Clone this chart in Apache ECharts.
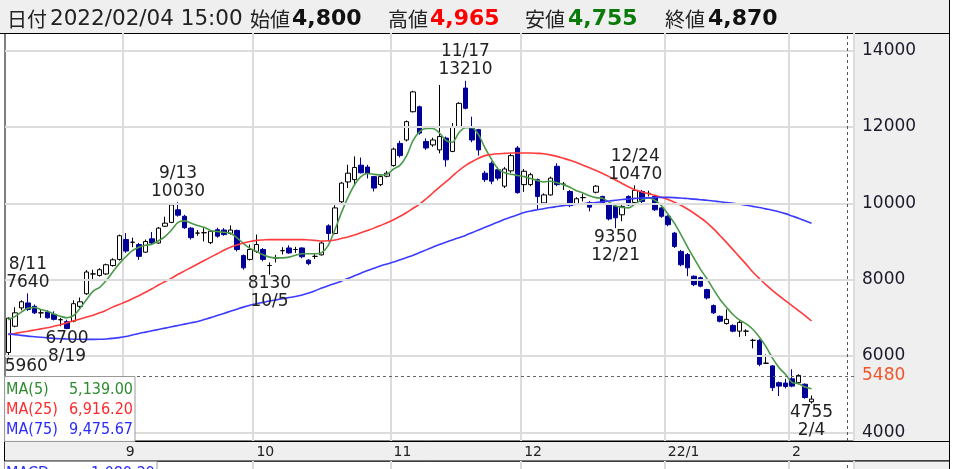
<!DOCTYPE html>
<html><head><meta charset="utf-8">
<script src="https://cdn.jsdelivr.net/npm/echarts@6/dist/echarts.min.js"></script>
<style>html,body{margin:0;padding:0;background:#fff}#c{width:954px;height:469px}</style>
</head><body><div id="c"></div>
<script>
// ---- data ----
const dates = [
'8/5','8/6','8/10','8/11','8/12','8/13','8/16','8/17','8/18','8/19','8/20','8/23','8/24','8/25','8/26','8/27','8/30','8/31',
'9/1','9/2','9/3','9/6','9/7','9/8','9/9','9/10','9/13','9/14','9/15','9/16','9/17','9/21','9/22','9/24','9/27','9/28','9/29','9/30',
'10/1','10/4','10/5','10/6','10/7','10/8','10/11','10/12','10/13','10/14','10/15','10/18','10/19','10/20','10/21','10/22','10/25','10/26','10/27','10/28','10/29',
'11/1','11/2','11/4','11/5','11/8','11/9','11/10','11/11','11/12','11/15','11/16','11/17','11/18','11/19','11/22','11/24','11/25','11/26','11/29','11/30',
'12/1','12/2','12/3','12/6','12/7','12/8','12/9','12/10','12/13','12/14','12/15','12/16','12/17','12/20','12/21','12/22','12/23','12/24','12/27','12/28','12/29','12/30',
'1/4','1/5','1/6','1/7','1/11','1/12','1/13','1/14','1/17','1/18','1/19','1/20','1/21','1/24','1/25','1/26','1/27','1/28','1/31',
'2/1','2/2','2/3','2/4'];
const open = [6090,6780,7260,7390,7300,7130,7150,7090,6950,6900,6910,7300,7630,8150,8110,8150,8370,8530,
9050,8980,8920,8720,9070,8960,9400,9500,9830,9660,9350,9220,9230,8970,9310,9300,9210,9290,8630,8530,
8740,8790,8370,8570,8760,8830,8790,8830,8510,8610,8650,9410,9210,10040,10560,10620,11000,10950,10700,10490,10710,
10990,11570,11660,12400,12530,11620,11530,11400,11710,11360,12010,13020,12010,11930,10790,11050,10880,10450,10850,11450,
10490,10490,10620,10010,10220,10970,10500,10310,9990,10150,10020,10290,10180,9960,9920,9700,10180,10020,10310,10260,10180,9880,
9660,9220,8740,8660,8090,8050,7740,7320,7040,6850,6800,6650,6650,6410,6410,5810,5740,5300,5290,
5400,5300,5260,4800];
const close = [6990,7130,7420,7220,7130,7130,7000,6960,6950,6720,7370,7420,8200,8150,8260,8390,8520,9150,
8750,8980,8610,9000,8960,9350,9480,9960,9690,9360,9100,9220,9230,9270,9140,9180,9300,8790,8310,8790,
8920,8530,8370,8570,8760,8700,8790,8600,8420,8610,8960,9210,9880,10530,10790,10940,10800,10780,10400,10700,10790,
11420,11250,12140,12920,11840,11450,11660,11750,11140,12010,12620,12490,11660,11400,10620,10580,10660,10900,11250,10280,
10840,10750,10180,10220,10660,10490,10500,9940,10120,10150,9900,10450,9990,9590,9620,9920,9960,10340,10050,10260,9830,9660,
9440,8870,8390,8310,7870,7830,7520,7130,6910,6960,6650,6880,6650,6410,5780,5810,5170,5210,5200,
5210,5490,4910,4870];
const low = [5960,6750,7200,7180,7100,7000,6980,6930,6780,6700,6880,7250,7600,8000,8080,8120,8340,8500,
8700,8850,8520,8700,8930,8940,9380,9480,9650,9330,9050,9150,9000,8930,9100,9150,9180,8740,8260,8500,
8700,8480,8130,8450,8660,8680,8700,8560,8380,8540,8630,9000,9190,10000,10400,10500,10780,10650,10310,10450,10680,
10960,11200,11620,12380,11800,11400,11480,11310,10960,11340,11980,12460,11600,11250,10560,10500,10600,10400,10800,10250,
10300,10450,9830,9980,10200,10450,10350,9900,9960,10050,9790,10260,9960,9550,9350,9530,9930,9990,10010,10180,9800,9620,
9400,8830,8350,8090,7830,7800,7480,7100,6880,6820,6620,6500,6520,6200,5730,5790,5080,4950,5150,
5180,5260,4880,4755];
const high = [7010,7280,7460,7640,7350,7220,7200,7170,7000,6950,7460,7530,8250,8260,8300,8420,8560,9180,
9220,9100,8960,9050,9250,9380,9650,9990,10030,9700,9380,9300,9350,9300,9360,9350,9420,9310,8660,8920,
9180,8830,8450,8650,8850,8900,8860,8850,8540,8680,9000,9450,9950,10560,11010,11230,11200,11010,10720,10760,10850,
11460,11640,12170,12950,12560,11700,11720,13100,11750,12100,12650,13210,12270,11950,10850,11100,10950,10950,11300,11500,
10900,10800,10650,10260,10700,11050,10560,10350,10160,10250,10060,10480,10200,9990,9960,9950,10210,10470,10350,10330,10200,9900,
9690,9250,8780,8700,8110,8080,7760,7350,7060,7220,6830,6950,6700,6450,6440,6040,5760,5330,5400,
5650,5520,5280,4965];
const ma5 = [6950,7030,7150,7250,7270,7220,7170,7100,7040,7000,7060,7250,7480,7700,7800,7980,8200,8420,
8600,8760,8850,8900,8930,9020,9130,9300,9500,9540,9480,9420,9370,9290,9260,9240,9220,9100,8950,8820,
8740,8650,8590,8570,8570,8590,8640,8680,8680,8680,8710,8900,9300,9750,10150,10480,10700,10780,10760,10740,10760,
10900,11000,11250,11650,11880,11960,11960,11850,11650,11600,11850,11980,11980,11800,11450,11150,10900,10800,10760,10730,
10700,10650,10600,10560,10580,10540,10490,10420,10330,10270,10200,10150,10130,10030,9930,9890,9880,9990,10090,10140,10080,9940,
9720,9480,9180,8860,8560,8270,8020,7740,7480,7270,7080,6940,6840,6700,6500,6250,5950,5700,5520,
5310,5270,5190,5139.00];
const ma25 = [6560,6590,6620,6650,6680,6710,6740,6780,6820,6870,6920,6970,7020,7070,7130,7200,7280,7350,
7420,7500,7580,7670,7760,7860,7950,8040,8140,8230,8320,8410,8500,8590,8680,8770,8850,8910,8960,9000,
9030,9040,9050,9050,9050,9050,9050,9050,9040,9030,9010,9020,9040,9080,9120,9170,9230,9290,9350,9420,9490,
9570,9660,9760,9870,9980,10120,10270,10420,10560,10710,10860,10990,11090,11180,11250,11280,11300,11310,11320,11320,
11320,11320,11310,11300,11270,11230,11180,11130,11070,11000,10930,10860,10780,10700,10610,10520,10430,10350,10300,10250,10210,10160,
10100,10030,9950,9850,9740,9620,9490,9330,9150,8970,8780,8590,8400,8200,8030,7870,7720,7580,7450,
7320,7190,7060,6916.20];
const ma75 = [6580,6560,6540,6520,6505,6490,6475,6462,6452,6446,6440,6437,6435,6435,6437,6445,6460,6480,
6510,6550,6590,6625,6660,6695,6730,6765,6800,6835,6870,6905,6955,7005,7060,7115,7170,7225,7280,7330,
7370,7405,7440,7470,7500,7530,7560,7600,7650,7710,7780,7840,7900,7960,8030,8100,8170,8240,8300,8360,8410,
8460,8520,8580,8640,8710,8780,8850,8920,8980,9040,9100,9160,9230,9300,9370,9440,9510,9580,9640,9700,
9760,9800,9830,9860,9890,9915,9940,9960,9975,9990,10005,10020,10040,10060,10080,10100,10115,10130,10140,10145,10150,10155,
10155,10150,10140,10125,10110,10095,10080,10060,10040,10020,10000,9975,9950,9920,9890,9855,9820,9780,9730,
9670,9610,9545,9475.67];
const monthStarts = ['9/1','10/1','11/1','12/1','1/4','2/1'];
const monthLabels = ['9','10','11','12','22/1','2'];
const yTicks = [4000,6000,8000,10000,12000,14000];
const refPrice = 5480;
const annoDates = ['8/5','8/11','8/19','9/13','10/5','11/17','12/21','12/24','2/4'];
const annoKinds = ['low','high','low','high','low','high','low','high','low'];
const macdValue = -1089.29;
const headerDate = '2022/02/04 15:00';

// ---- build ----
const PAD = 6;
const cats = dates.concat(['_a','_b','_c','_d','_e','_f'].slice(0, PAD));
const monthIdx = monthStarts.map(d => dates.indexOf(d));
const candles = dates.map((d, i) => [open[i], close[i], low[i], high[i]]);
const L = dates.length - 1;
const fmtInt = v => v.toLocaleString('en-US');
const fmt2 = v => v.toLocaleString('en-US', {minimumFractionDigits: 2, maximumFractionDigits: 2});
const NUMF = '"DejaVu Sans", "Noto Sans CJK JP", sans-serif';
const NARROW = '"DejaVu Sans Condensed", "Liberation Sans Narrow", "Noto Sans CJK JP", sans-serif';

const chart = echarts.init(document.getElementById('c'), null, {renderer: 'canvas'});

const splitFn = (idx) => monthIdx.indexOf(idx) >= 0;

const markPts = annoDates.map((d, k) => {
  const i = dates.indexOf(d);
  const hi = annoKinds[k] === 'high';
  const v = hi ? high[i] : low[i];
  const first = i === 0;
  return {
    coord: [d, v], value: v,
    label: {
      show: true, position: hi ? 'top' : 'bottom', distance: hi ? 2 : 0,
      offset: first ? [18, 0] : [0, 0],
      formatter: first ? String(v) : (hi ? d + '\n' + v : v + '\n' + d),
      color: '#222', fontSize: 17, fontFamily: NUMF, lineHeight: 18
    }
  };
});

const txt = (text, x, y, font, fill, align, z) => ({
  type: 'text', z: z || 60, silent: true,
  style: {text, x, y, font, fill, textAlign: align || 'left', align: align || 'left',
          textVerticalAlign: 'middle', verticalAlign: 'middle'}
});

const lastO = open[L], lastH = high[L], lastL = low[L], lastC = close[L];

const option = {
  animation: false,
  backgroundColor: '#fff',
  grid: [
    {left: 5, top: 33, width: 849, height: 408, show: true, backgroundColor: '#fff', borderColor: '#000', borderWidth: 1},
    {left: 5, top: 461, width: 849, height: 100, show: true, backgroundColor: '#fff', borderColor: '#000', borderWidth: 1}
  ],
  xAxis: [
    {type: 'category', gridIndex: 0, data: cats, boundaryGap: true,
     axisLine: {show: false}, axisTick: {show: false},
     axisLabel: {show: true, interval: splitFn, formatter: (v, i) => monthLabels[monthIdx.indexOf(i)] || '',
                 align: 'left', margin: 4, color: '#222', fontSize: 14, fontFamily: NUMF},
     splitLine: {show: true, interval: splitFn, lineStyle: {color: '#dcdcdc', width: 2}}},
    {type: 'category', gridIndex: 1, data: cats, boundaryGap: true,
     axisLine: {show: false}, axisTick: {show: false}, axisLabel: {show: false},
     splitLine: {show: true, interval: splitFn, lineStyle: {color: '#dcdcdc', width: 2}}},
    {type: 'value', gridIndex: 0, min: 0, max: cats.length, show: false},
    {type: 'value', gridIndex: 1, min: 0, max: cats.length, show: false}
  ],
  yAxis: [
    {type: 'value', gridIndex: 0, min: 3772, max: 14463, show: false, scale: true},
    {type: 'value', gridIndex: 1, min: 0, max: 1, show: false}
  ],
  series: [
    {name: 'grid', type: 'line', xAxisIndex: 0, yAxisIndex: 0, data: [], z: 1, silent: true,
     markLine: {silent: true, symbol: 'none', animation: false,
       lineStyle: {color: '#dcdcdc', width: 2, type: 'solid'},
       label: {show: true, position: 'end', distance: 8, color: '#1a1a2a', fontSize: 17, fontFamily: NUMF,
               formatter: p => String(p.value)},
       data: yTicks.map(v => ({yAxis: v})).concat([{yAxis: refPrice,
          lineStyle: {color: '#666', width: 1, type: [3, 3]},
          label: {color: '#f0552a'}}])}},
    {name: 'today', type: 'line', xAxisIndex: 2, yAxisIndex: 0, data: [], z: 1, silent: true,
     markLine: {silent: true, symbol: 'none', animation: false, label: {show: false},
       lineStyle: {color: '#555', width: 1, type: [3, 3]}, data: [{xAxis: 129}]}},
    {name: 'today2', type: 'line', xAxisIndex: 3, yAxisIndex: 1, data: [], z: 1, silent: true,
     markLine: {silent: true, symbol: 'none', animation: false, label: {show: false},
       lineStyle: {color: '#555', width: 1, type: [3, 3]}, data: [{xAxis: 129}]}},
    {name: 'price', type: 'candlestick', xAxisIndex: 0, yAxisIndex: 0, z: 3, barWidth: 5,
     data: candles,
     itemStyle: {color: '#ffffff', color0: '#000099', borderColor: '#000000', borderColor0: '#000099',
                 borderColorDoji: '#000000', borderWidth: 1},
     markPoint: {symbol: 'circle', symbolSize: 0, silent: true, animation: false, data: markPts}},
    {name: 'MA5', type: 'line', xAxisIndex: 0, yAxisIndex: 0, z: 4, data: ma5, smooth: 0.3, showSymbol: false,
     lineStyle: {color: '#4a9a4a', width: 1.6}},
    {name: 'MA25', type: 'line', xAxisIndex: 0, yAxisIndex: 0, z: 4, data: ma25, smooth: 0.3, showSymbol: false,
     lineStyle: {color: '#ff3b3b', width: 1.6}},
    {name: 'MA75', type: 'line', xAxisIndex: 0, yAxisIndex: 0, z: 4, data: ma75, smooth: 0.3, showSymbol: false,
     lineStyle: {color: '#3b3bff', width: 1.6}}
  ],
  graphic: [
    {type: 'rect', z: 0, silent: true, shape: {x: 0, y: 0, width: 949.5, height: 33}, style: {fill: '#efefef'}},
    {type: 'line', z: 0, silent: true, shape: {x1: 949.5, y1: 0, x2: 949.5, y2: 469}, style: {stroke: '#000', lineWidth: 1}},
    {type: 'line', z: 0, silent: true, shape: {x1: 0, y1: 33.5, x2: 949.5, y2: 33.5}, style: {stroke: '#000', lineWidth: 1}},
    {type: 'rect', z: 0, silent: true, shape: {x: 854.5, y: 33.5, width: 95, height: 408}, style: {fill: '#efefef', stroke: '#000', lineWidth: 1}},
    {type: 'rect', z: 0, silent: true, shape: {x: 4.5, y: 441.5, width: 945, height: 19.5}, style: {fill: '#efefef', stroke: '#000', lineWidth: 1}},
    {type: 'rect', z: 0, silent: true, shape: {x: 854.5, y: 461, width: 95, height: 20}, style: {fill: '#efefef', stroke: '#000', lineWidth: 1}},
    txt('日付', 7, 19, '20px "Noto Sans CJK JP", sans-serif', '#222'),
    txt(headerDate, 50, 19, '21.5px ' + NUMF, '#222'),
    txt('始値', 250, 19, '20px "Noto Sans CJK JP", sans-serif', '#222'),
    txt(fmtInt(lastO), 292, 19, 'bold 22px ' + NUMF, '#111'),
    txt('高値', 388, 19, '20px "Noto Sans CJK JP", sans-serif', '#222'),
    txt(fmtInt(lastH), 430, 19, 'bold 22px ' + NUMF, '#ff0000'),
    txt('安値', 525, 19, '20px "Noto Sans CJK JP", sans-serif', '#222'),
    txt(fmtInt(lastL), 568, 19, 'bold 22px ' + NUMF, '#0a7a0a'),
    txt('終値', 665, 19, '20px "Noto Sans CJK JP", sans-serif', '#222'),
    txt(fmtInt(lastC), 708, 19, 'bold 22px ' + NUMF, '#111'),
    {type: 'rect', z: 50, silent: true, shape: {x: 4.5, y: 376.5, width: 130.5, height: 65}, style: {fill: 'rgba(255,255,255,0.92)', stroke: '#999', lineWidth: 1}},
    txt('MA(5)', 6, 390, '16px ' + NARROW, '#2e8b2e'),
    txt(fmt2(ma5[L]), 133, 390, '16px ' + NARROW, '#2e8b2e', 'right'),
    txt('MA(25)', 6, 410, '16px ' + NARROW, '#ff2a2a'),
    txt(fmt2(ma25[L]), 133, 410, '16px ' + NARROW, '#ff2a2a', 'right'),
    txt('MA(75)', 6, 430, '16px ' + NARROW, '#2a2aff'),
    txt(fmt2(ma75[L]), 133, 430, '16px ' + NARROW, '#2a2aff', 'right'),
    {type: 'rect', z: 50, silent: true, shape: {x: 4.5, y: 461.5, width: 152.5, height: 22}, style: {fill: '#fff', stroke: '#999', lineWidth: 1}},
    txt('MACD', 6, 474, '16px ' + NARROW, '#2a2aff'),
    txt(fmt2(macdValue), 155, 474, '16px ' + NARROW, '#2a2aff', 'right')
  ]
};
chart.setOption(option);
</script>
</body></html>
